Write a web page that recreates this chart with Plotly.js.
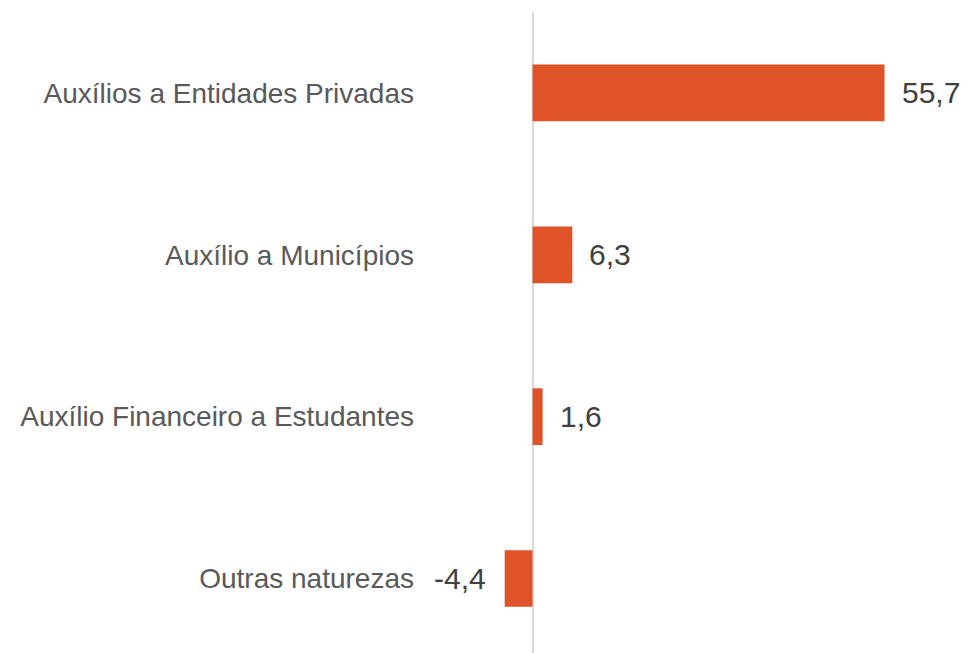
<!DOCTYPE html>
<html>
<head>
<meta charset="utf-8">
<script src="https://cdn.plot.ly/plotly-3.0.1.min.js"></script>
<style>html,body{margin:0;padding:0;background:#fff;}#chart{width:967px;height:653px;}</style>
</head>
<body>
<div id="chart"></div>
<script>
const categories = ["Auxílios a Entidades Privadas", "Auxílio a Municípios", "Auxílio Financeiro a Estudantes", "Outras naturezas"];
const values = [55.7, 6.3, 1.6, -4.4];
const valueLabels = values.map(v => v.toFixed(1).replace('.', ','));

const trace = {
  type: 'bar',
  orientation: 'h',
  y: categories,
  x: values,
  marker: {color: '#E05328'},
  hoverinfo: 'none'
};

const annotations = values.map((v, i) => ({
  x: v, y: categories[i], xref: 'x', yref: 'y',
  text: valueLabels[i], showarrow: false,
  xanchor: v >= 0 ? 'left' : 'right',
  xshift: v >= 0 ? 15 : -17,
  font: {family: '"Liberation Sans", Arial, sans-serif', size: 30, color: '#404040'}
}));

const layout = {
  width: 967, height: 653,
  margin: {l: 420, r: 0, t: 12, b: 0, pad: 0},
  paper_bgcolor: '#fff', plot_bgcolor: '#fff',
  bargap: 0.65,
  showlegend: false,
  font: {family: '"Liberation Sans", Arial, sans-serif'},
  xaxis: {
    range: [-17.8, 68.75], autorange: false,
    showgrid: false, showticklabels: false, ticks: '',
    zeroline: true, zerolinecolor: '#d9d9d9', zerolinewidth: 2,
    showline: false, fixedrange: true
  },
  yaxis: {
    type: 'category',
    range: [3.46, -0.5], autorange: false,
    showgrid: false, zeroline: false, showline: false, ticks: '',
    tickfont: {size: 28, color: '#595959', family: '"Liberation Sans", Arial, sans-serif'},
    ticklabelstandoff: 5,
    fixedrange: true
  },
  annotations: annotations
};

Plotly.newPlot('chart', [trace], layout, {displayModeBar: false, staticPlot: true});
</script>
</body>
</html>
